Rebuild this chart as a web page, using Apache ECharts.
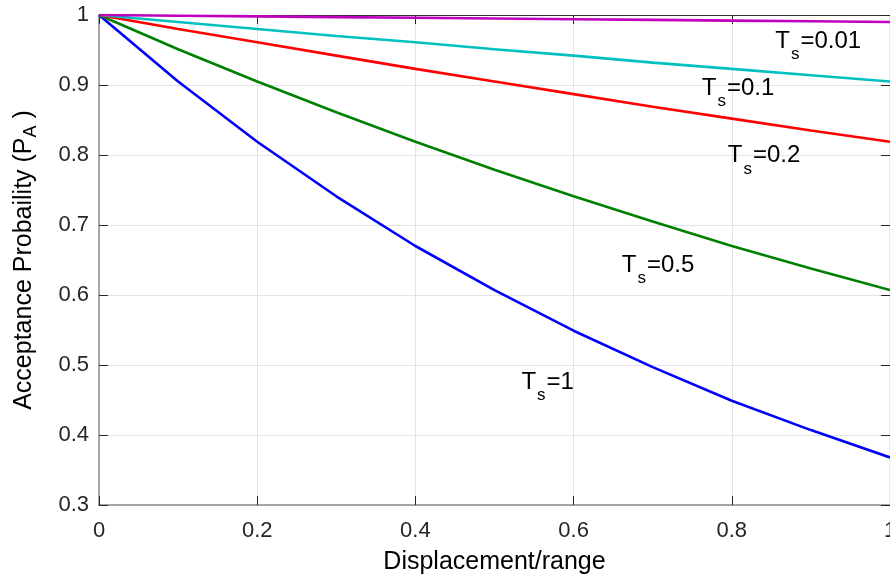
<!DOCTYPE html>
<html>
<head>
<meta charset="utf-8">
<script src="https://cdn.jsdelivr.net/npm/echarts@6/dist/echarts.min.js"></script>
<style>
  html, body { margin: 0; padding: 0; background: #fff; }
  #chart { width: 890px; height: 577px; }
</style>
</head>
<body>
<div id="chart"></div>
<script>
// Displacement/range sample points
const displacement = [0, 0.1, 0.2, 0.3, 0.4, 0.5, 0.6, 0.7, 0.8, 0.9, 1.0];

// Acceptance probability for each Ts setting
const pa_Ts1    = [1, 0.905, 0.819, 0.741, 0.670, 0.607, 0.549, 0.497, 0.449, 0.407, 0.368];
const pa_Ts05   = [1, 0.951, 0.905, 0.861, 0.819, 0.779, 0.741, 0.705, 0.670, 0.638, 0.607];
const pa_Ts02   = [1, 0.980, 0.961, 0.942, 0.923, 0.905, 0.887, 0.869, 0.852, 0.835, 0.819];
const pa_Ts01   = [1, 0.990, 0.980, 0.970, 0.961, 0.951, 0.942, 0.932, 0.923, 0.914, 0.905];
const pa_Ts001  = [1, 0.999, 0.998, 0.997, 0.996, 0.995, 0.994, 0.993, 0.992, 0.991, 0.990];

const tsLabels = ['1', '0.5', '0.2', '0.1', '0.01'];

// Tick labels
const xTicks = [0, 0.2, 0.4, 0.6, 0.8, 1];
const yTicks = [0.3, 0.4, 0.5, 0.6, 0.7, 0.8, 0.9, 1];

// Where each curve's "Ts=" annotation sits (data units, top-left of the text)
const labelAnchors = [
  [0.534, 0.493],
  [0.661, 0.660],
  [0.795, 0.816],
  [0.762, 0.913],
  [0.855, 0.980]
];

const curveValues = [pa_Ts1, pa_Ts05, pa_Ts02, pa_Ts01, pa_Ts001];
const curveColors = ['#0000ff', '#008000', '#ff0000', '#00bfbf', '#bf00bf'];

const FONT = '"Liberation Sans", Arial, Helvetica, sans-serif';
const tickColor = '#262626';

const richTs = {
  t: { fontSize: 24, fontFamily: FONT, color: '#000', lineHeight: 28, verticalAlign: 'top' },
  s: { fontSize: 17, fontFamily: FONT, color: '#000', lineHeight: 19, verticalAlign: 'top', padding: [17, 1, 0, 1] }
};

const series = curveValues.map((vals, i) => ({
  type: 'line',
  data: displacement.map((x, k) => [x, vals[k]]),
  showSymbol: false,
  symbol: 'none',
  lineStyle: { color: curveColors[i], width: 2.6 },
  itemStyle: { color: curveColors[i] },
  z: 3 + (i === 4 ? 1 : 0),
  markPoint: {
    symbol: 'circle',
    symbolSize: 0,
    silent: true,
    data: [{
      coord: labelAnchors[i],
      label: {
        show: true,
        position: 'inside',
        align: 'left',
        verticalAlign: 'top',
        formatter: '{t|T}{s|s}{t|=' + tsLabels[i] + '}',
        rich: richTs
      }
    }]
  }
}));

const chart = echarts.init(document.getElementById('chart'), null, { renderer: 'canvas' });

chart.setOption({
  animation: false,
  backgroundColor: '#fff',
  grid: { left: 99, top: 15, width: 791, height: 490, containLabel: false, outerBoundsMode: 'none' },
  xAxis: [{
    type: 'value',
    min: 0, max: 1, interval: 0.2,
    position: 'bottom',
    name: 'Displacement/range',
    nameLocation: 'middle',
    nameGap: 45,
    nameTextStyle: { fontSize: 25, fontFamily: FONT, color: '#000' },
    axisLine: { show: true, onZero: false, lineStyle: { color: '#8c8c8c', width: 1.5 } },
    axisTick: { show: true, inside: true, length: 9, lineStyle: { color: tickColor, width: 1 } },
    axisLabel: {
      fontSize: 22, fontFamily: FONT, color: tickColor, margin: 15,
      formatter: v => (xTicks.includes(+v.toFixed(1)) ? String(+v.toFixed(1)) : '')
    },
    splitLine: { show: true, lineStyle: { color: '#e3e3e3', width: 1 } }
  }, {
    type: 'value',
    min: 0, max: 1, interval: 0.2,
    position: 'top',
    axisLine: { show: true, onZero: false, lineStyle: { color: '#333', width: 1.2 } },
    axisTick: { show: true, inside: true, length: 9, lineStyle: { color: tickColor, width: 1 } },
    axisLabel: { show: false },
    splitLine: { show: false }
  }],
  yAxis: [{
    type: 'value',
    min: 0.3, max: 1, interval: 0.1,
    position: 'left',
    name: 'Acceptance Probaility (P{sub|A} )',
    nameLocation: 'middle',
    nameGap: 59,
    nameTextStyle: {
      fontSize: 25, fontFamily: FONT, color: '#000',
      rich: {
        sub: { fontSize: 18, fontFamily: FONT, color: '#000', padding: [13, 0, 0, 0] }
      }
    },
    axisLine: { show: true, onZero: false, lineStyle: { color: '#8c8c8c', width: 1.5 } },
    axisTick: { show: true, inside: true, length: 9, lineStyle: { color: tickColor, width: 1 } },
    axisLabel: {
      fontSize: 22, fontFamily: FONT, color: tickColor, margin: 10,
      formatter: v => {
        const r = +v.toFixed(1);
        return yTicks.includes(r) ? String(r) : '';
      }
    },
    splitLine: { show: true, lineStyle: { color: '#e3e3e3', width: 1 } }
  }, {
    type: 'value',
    min: 0.3, max: 1, interval: 0.1,
    position: 'right',
    axisLine: { show: true, onZero: false, lineStyle: { color: '#333', width: 1.2 } },
    axisTick: { show: true, inside: true, length: 9, lineStyle: { color: tickColor, width: 1 } },
    axisLabel: { show: false },
    splitLine: { show: false }
  }],
  series: series
});
</script>
</body>
</html>
